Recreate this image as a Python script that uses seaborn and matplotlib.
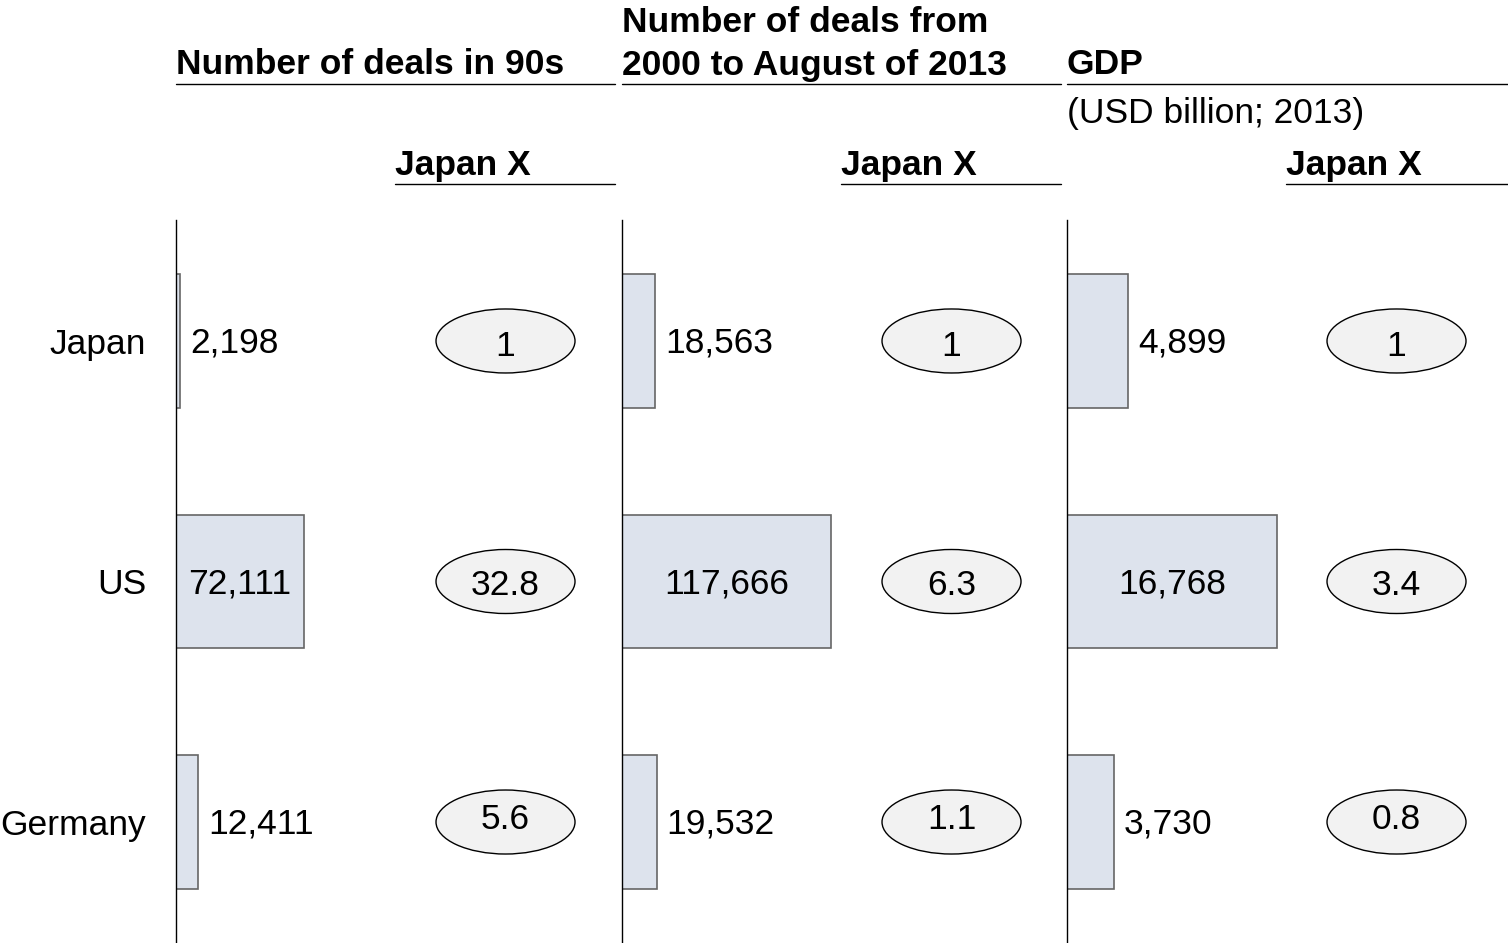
import matplotlib
matplotlib.use("Agg")
import matplotlib.pyplot as plt
import seaborn as sns
import pandas as pd
from matplotlib.patches import Ellipse
from matplotlib.lines import Line2D
from matplotlib.transforms import blended_transform_factory

# Data
countries = ["Japan", "US", "Germany"]
deals_90s = [2198, 72111, 12411]
deals_2000_2013 = [18563, 117666, 19532]
gdp_2013 = [4899, 16768, 3730]
ratio_90s = ["1", "32.8", "5.6"]
ratio_2000_2013 = ["1", "6.3", "1.1"]
ratio_gdp = ["1", "3.4", "0.8"]
panel_titles = [["Number of deals in 90s"],
                ["Number of deals from", "2000 to August of 2013"],
                ["GDP"]]
gdp_unit = "(USD billion; 2013)"
ratio_header = "Japan X"

values = [deals_90s, deals_2000_2013, gdp_2013]
ratios = [ratio_90s, ratio_2000_2013, ratio_gdp]

# Layout (pixels)
W, H = 1508, 943
panel_left = [176, 622, 1067]
panel_right = [615, 1061, 1508]
axis_w = 439
axis_top = 220
xmax = [247300, 247300, 35100]
FS = 25.5
BAR_FILL = "#dde3ed"
BAR_EDGE = "#666666"
OVAL_FILL = "#f2f2f2"
oval_text_shift = [6, 4, -3]

sns.set_theme(style="white")
plt.rcParams["font.family"] = ["Liberation Sans", "DejaVu Sans"]

fig = plt.figure(figsize=(W / 100, H / 100), dpi=100)


def fx(px):
    return px / W


def fy(py):
    return 1 - py / H


for i in range(3):
    ax = fig.add_axes([fx(panel_left[i]), 0, axis_w / W, (H - axis_top) / H])
    df = pd.DataFrame({"country": countries, "value": values[i]})
    sns.barplot(data=df, x="value", y="country", orient="h", color=BAR_FILL,
                saturation=1, edgecolor=BAR_EDGE, linewidth=1.2, width=0.557,
                ax=ax)
    ax.set_xlim(0, xmax[i])
    ax.set_ylim(2.503, -0.503)
    ax.set_xlabel("")
    ax.set_ylabel("")
    ax.set_xticks([])
    for side in ("top", "right", "bottom"):
        ax.spines[side].set_visible(False)
    ax.spines["left"].set_color("black")
    ax.spines["left"].set_linewidth(1.0)
    ax.spines["left"].set_zorder(5)
    ax.tick_params(axis="y", length=0, pad=21.6, labelsize=FS, labelcolor="black")
    if i > 0:
        ax.tick_params(axis="y", labelleft=False)

    # value labels
    vmax = max(values[i])
    for j, (v, patch) in enumerate(zip(values[i], ax.patches)):
        yc = patch.get_y() + patch.get_height() / 2
        end = patch.get_x() + patch.get_width()
        label = f"{v:,}"
        if v == vmax:
            ax.annotate(label, (end / 2, yc), xytext=(0, -2),
                        textcoords="offset pixels", ha="center", va="center",
                        fontsize=FS, color="black")
        else:
            ax.annotate(label, (end, yc), xytext=(10, -2),
                        textcoords="offset pixels", ha="left", va="center",
                        fontsize=FS, color="black")

    # ratio ovals
    tr = blended_transform_factory(ax.transAxes, ax.transData)
    for j, r in enumerate(ratios[i]):
        ax.add_patch(Ellipse((0.7506, j), 139 / axis_w, 64 / 240.5,
                             transform=tr, facecolor=OVAL_FILL,
                             edgecolor="black", linewidth=1.0, clip_on=False))
        ax.annotate(r, (0.7506, j), xycoords=tr,
                    xytext=(0, -oval_text_shift[j]), textcoords="offset pixels",
                    ha="center", va="center", fontsize=FS, color="black")

    # panel headers
    lines = panel_titles[i]
    for k, line in enumerate(lines):
        base = 74.5 - 42 * (len(lines) - 1 - k)
        fig.text(fx(panel_left[i]), fy(base), line, ha="left", va="baseline",
                 fontsize=FS, fontweight="bold", color="black")
    fig.add_artist(Line2D([fx(panel_left[i]), fx(panel_right[i])],
                          [fy(84), fy(84)], color="black", linewidth=1.0))

    hx = panel_left[i] + 219
    fig.text(fx(hx), fy(174.5), ratio_header, ha="left", va="baseline",
             fontsize=FS, fontweight="bold", color="black")
    fig.add_artist(Line2D([fx(hx), fx(panel_right[i])],
                          [fy(184), fy(184)], color="black", linewidth=1.0))

fig.text(fx(panel_left[2]), fy(122.5), gdp_unit, ha="left", va="baseline",
         fontsize=FS, color="black")

fig.savefig("out.png", dpi=100)
